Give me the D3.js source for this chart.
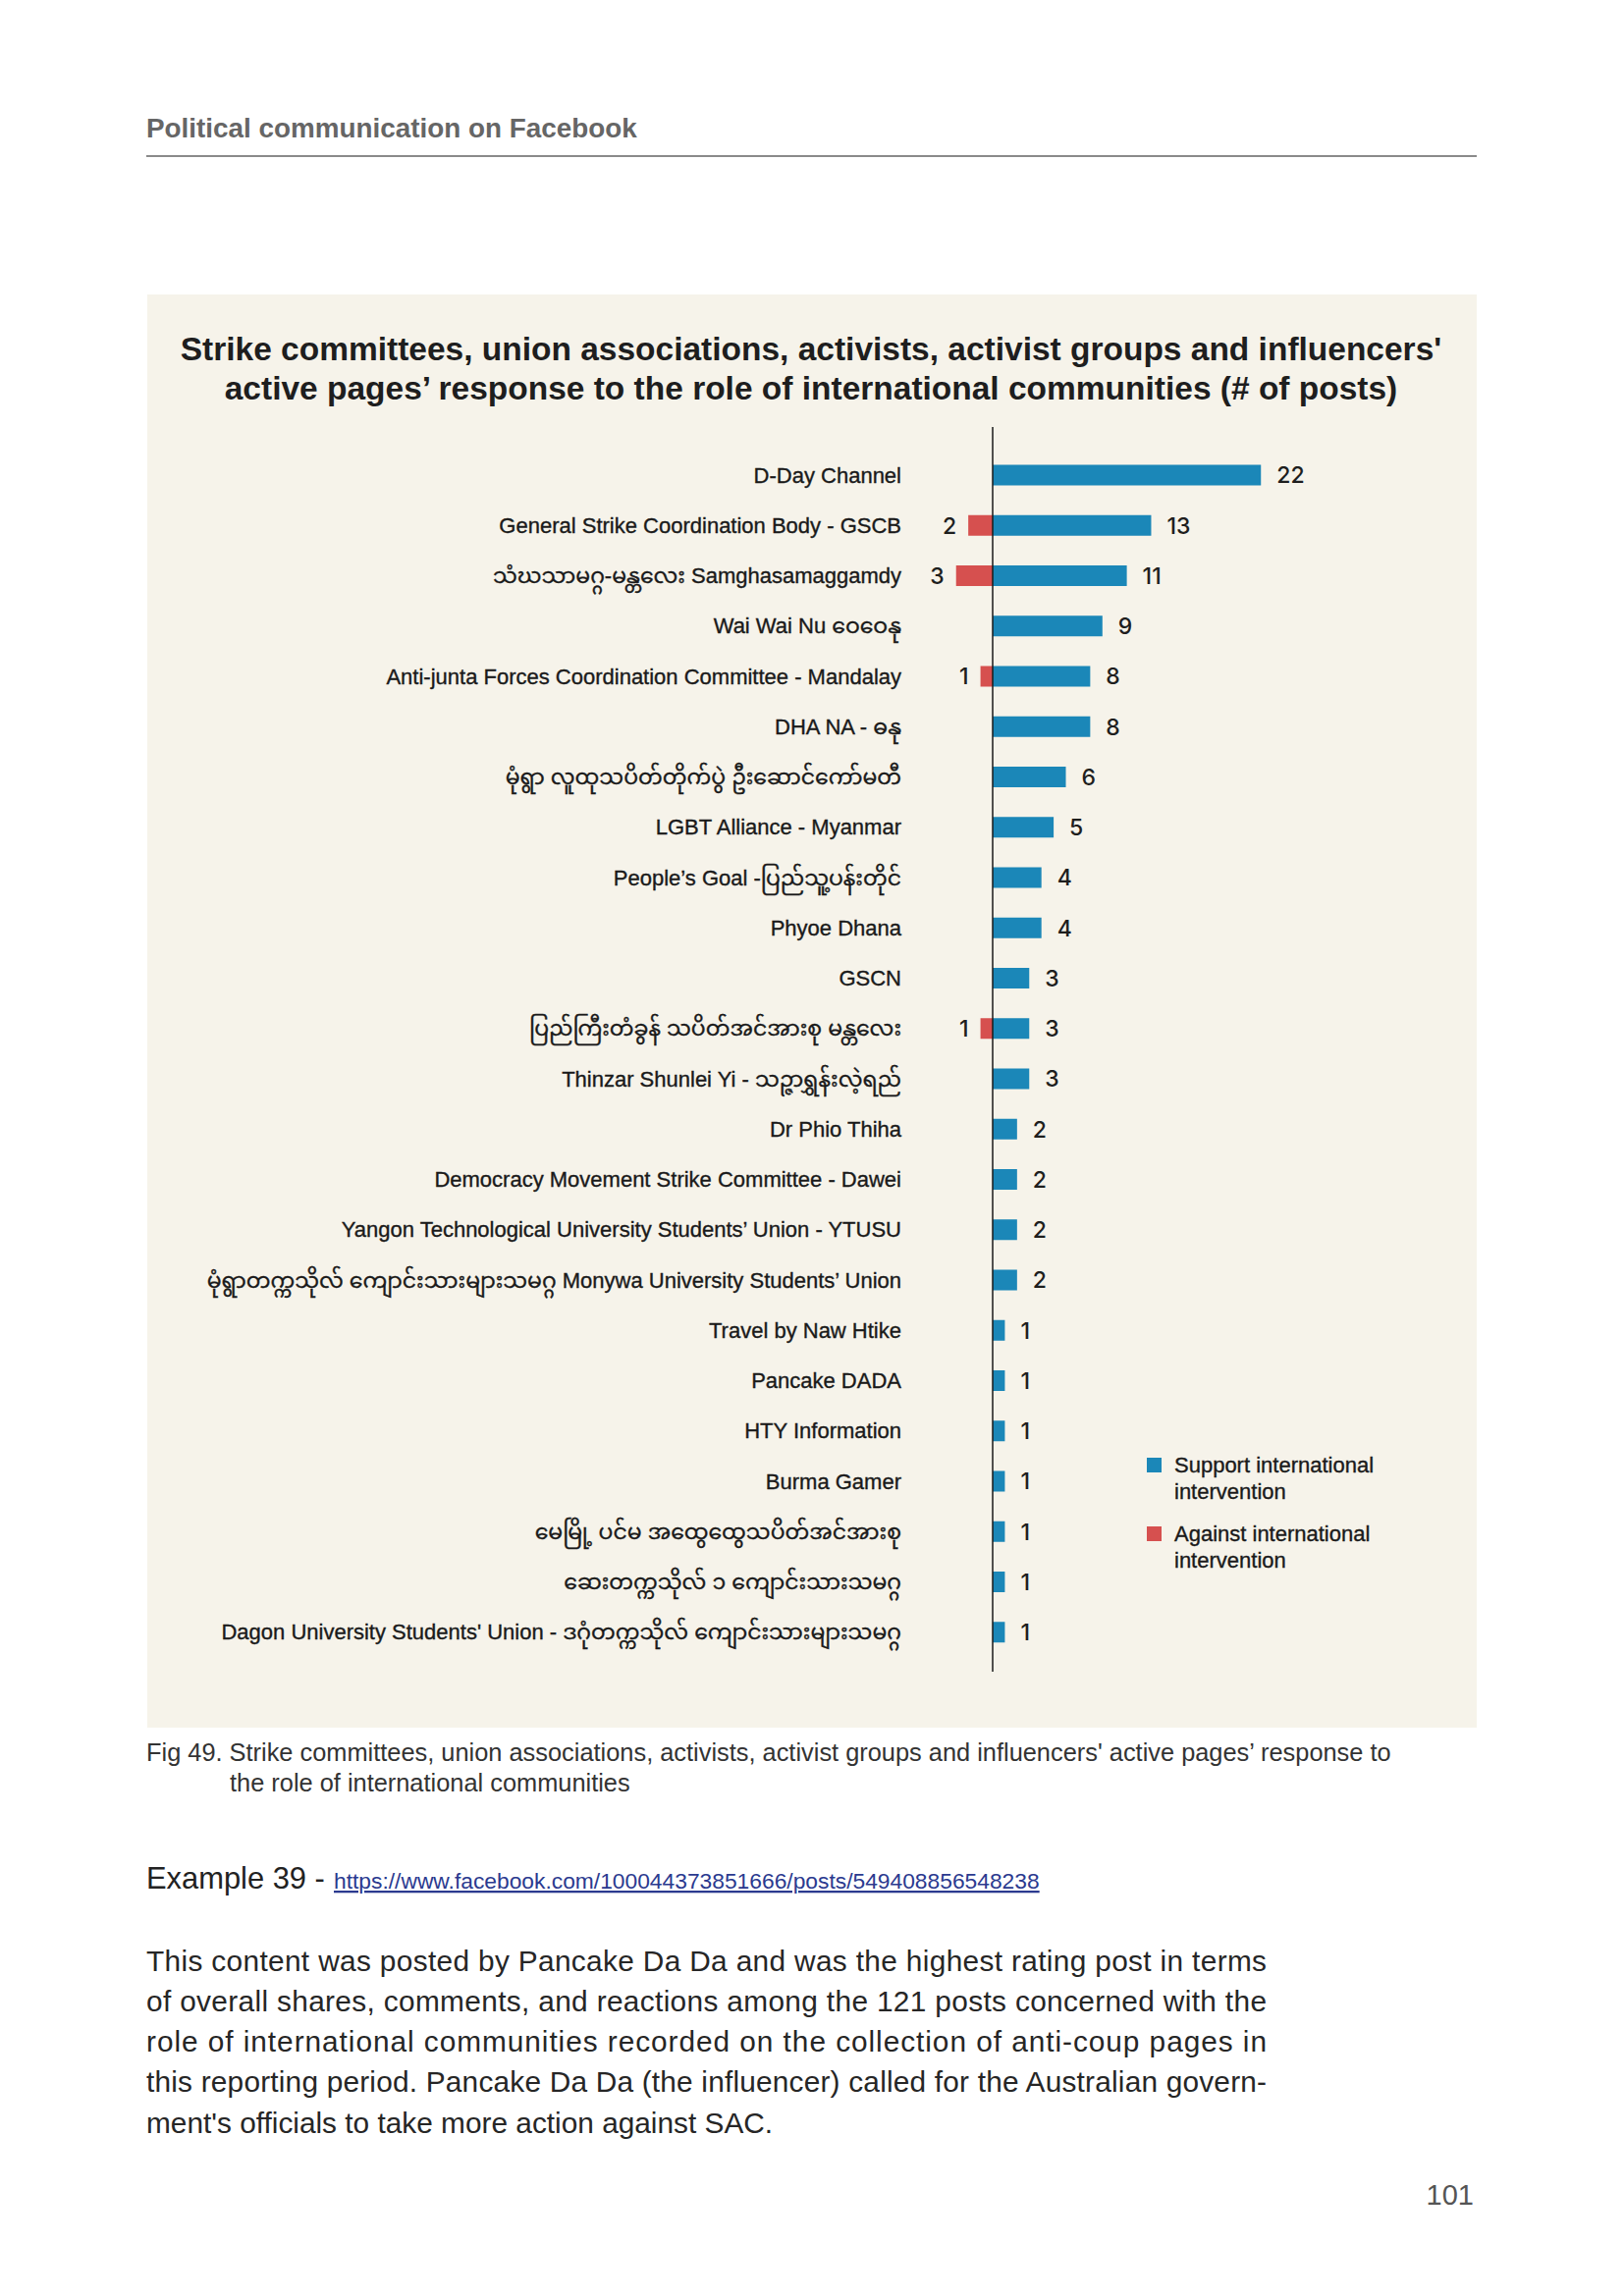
<!DOCTYPE html>
<html>
<head>
<meta charset="utf-8">
<script src="https://cdn.jsdelivr.net/npm/d3@7"></script>
<style>
  html, body { margin: 0; padding: 0; background: #ffffff; }
  svg { display: block; }
</style>
</head>
<body>
<svg id="page" width="1654" height="2339"></svg>
<script>
// ---------- DATA ----------
const categories = [
  "D-Day Channel",
  "General Strike Coordination Body - GSCB",
  "သံဃသာမဂ္ဂ-မန္တလေး Samghasamaggamdy",
  "Wai Wai Nu ဝေဝေနု",
  "Anti-junta Forces Coordination Committee - Mandalay",
  "DHA NA - ဓနု",
  "မုံရွာ လူထုသပိတ်တိုက်ပွဲ ဦးဆောင်ကော်မတီ",
  "LGBT Alliance - Myanmar",
  "People’s Goal -ပြည်သူ့ပန်းတိုင်",
  "Phyoe Dhana",
  "GSCN",
  "ပြည်ကြီးတံခွန် သပိတ်အင်အားစု မန္တလေး",
  "Thinzar Shunlei Yi - သဉ္ဇာရွှန်းလဲ့ရည်",
  "Dr Phio Thiha",
  "Democracy Movement Strike Committee - Dawei",
  "Yangon Technological University Students’ Union - YTUSU",
  "မုံရွာတက္ကသိုလ် ကျောင်းသားများသမဂ္ဂ Monywa University Students’ Union",
  "Travel by Naw Htike",
  "Pancake DADA",
  "HTY Information",
  "Burma Gamer",
  "မေမြို့ ပင်မ အထွေထွေသပိတ်အင်အားစု",
  "ဆေးတက္ကသိုလ် ၁ ကျောင်းသားသမဂ္ဂ",
  "Dagon University Students' Union - ဒဂုံတက္ကသိုလ် ကျောင်းသားများသမဂ္ဂ"
];
const supportValues = [22,13,11,9,8,8,6,5,4,4,3,3,3,2,2,2,2,1,1,1,1,1,1,1];
const againstValues = [0,2,3,0,1,0,0,0,0,0,0,1,0,0,0,0,0,0,0,0,0,0,0,0];
const seriesNames = ["Support international intervention", "Against international intervention"];
const legendLines = [["Support international", "intervention"], ["Against international", "intervention"]];

const headerText = "Political communication on Facebook";
const titleLines = [
  "Strike committees, union associations, activists, activist groups and influencers'",
  "active pages’ response to the role of international communities (# of posts)"
];
const captionLines = [
  "Fig 49. Strike committees, union associations, activists, activist groups and influencers' active pages’ response to",
  "the role of international communities"
];
const exampleLabel = "Example 39 - ";
const exampleLink = "https://www.facebook.com/100044373851666/posts/549408856548238";
const bodyLines = [
  "This content was posted by Pancake Da Da and was the highest rating post in terms",
  "of overall shares, comments, and reactions among the 121 posts concerned with the",
  "role of international communities recorded on the collection of anti-coup pages in",
  "this reporting period. Pancake Da Da (the influencer) called for the Australian govern-",
  "ment's officials to take more action against SAC."
];
const pageNumber = "101";

// ---------- STYLE ----------
const BLUE = "#1b87b8";
const RED = "#d6504f";
const PANEL = "#f6f3ea";
const FONT = "'Liberation Sans', Arial, Helvetica, 'Noto Sans Myanmar', 'Padauk', 'Myanmar Text', 'Noto Sans', sans-serif";
const NUMFONT = "Inter, 'Liberation Sans', Arial, sans-serif";

const svg = d3.select("#page");

function fitWidth(sel, w) {
  const n = sel.node();
  const l = n.getComputedTextLength();
  const fs = parseFloat(sel.attr("font-size"));
  if (l > 0) sel.attr("font-size", fs * w / l);
  return sel;
}

// ---------- HEADER ----------
const header = svg.append("text")
  .attr("x", 149).attr("y", 140)
  .attr("font-family", FONT).attr("font-weight", "bold")
  .attr("font-size", 26).attr("fill", "#666666")
  .text(headerText);
fitWidth(header, 500);

svg.append("line")
  .attr("x1", 149).attr("x2", 1504).attr("y1", 159).attr("y2", 159)
  .attr("stroke", "#8a8a8a").attr("stroke-width", 2);

// ---------- PANEL ----------
svg.append("rect")
  .attr("x", 150).attr("y", 300).attr("width", 1354).attr("height", 1460)
  .attr("fill", PANEL);

const t1 = svg.append("text")
  .attr("x", 826).attr("y", 367).attr("text-anchor", "middle")
  .attr("font-family", FONT).attr("font-weight", "bold")
  .attr("font-size", 30).attr("fill", "#1e1e1e")
  .text(titleLines[0]);
fitWidth(t1, 1285);
const tfs = parseFloat(t1.attr("font-size"));
svg.append("text")
  .attr("x", 826).attr("y", 407).attr("text-anchor", "middle")
  .attr("font-family", FONT).attr("font-weight", "bold")
  .attr("font-size", tfs).attr("fill", "#1e1e1e")
  .text(titleLines[1]);

// ---------- CHART ----------
const unit = 12.42;
const x0 = 1011;
const x = d3.scaleLinear().domain([0, 1]).range([x0, x0 + unit]);
const y = d3.scalePoint().domain(categories).range([484, 484 + 23 * 51.25]);
const barH = 21;

const rows = categories.map((c, i) => ({ c, s: supportValues[i], a: againstValues[i] }));

const g = svg.append("g");

g.selectAll("rect.sup").data(rows).join("rect")
  .attr("class", "sup")
  .attr("x", x(0)).attr("y", d => y(d.c) - barH / 2)
  .attr("width", d => x(d.s) - x(0)).attr("height", barH)
  .attr("fill", BLUE);

g.selectAll("rect.ag").data(rows.filter(d => d.a > 0)).join("rect")
  .attr("class", "ag")
  .attr("x", d => x(-d.a)).attr("y", d => y(d.c) - barH / 2)
  .attr("width", d => x(0) - x(-d.a)).attr("height", barH)
  .attr("fill", RED);

g.append("line")
  .attr("x1", x(0)).attr("x2", x(0)).attr("y1", 435).attr("y2", 1703)
  .attr("stroke", "#1a1a1a").attr("stroke-width", 1.5);

g.selectAll("text.cat").data(rows).join("text")
  .attr("class", "cat")
  .attr("x", 918).attr("y", d => y(d.c)).attr("dy", "0.35em")
  .attr("text-anchor", "end")
  .attr("font-family", FONT).attr("font-size", 22).attr("fill", "#1a1a1a")
  .attr("stroke", "#1a1a1a").attr("stroke-width", 0.35)
  .text(d => d.c);

g.selectAll("text.sv").data(rows).join("text")
  .attr("class", "sv")
  .attr("x", d => x(d.s) + 16).attr("y", d => y(d.c)).attr("dy", "0.36em")
  .attr("font-family", NUMFONT).attr("font-weight", 500).attr("font-size", 23).attr("fill", "#1e1e1e")
  .text(d => d.s);

g.selectAll("text.av").data(rows.filter(d => d.a > 0)).join("text")
  .attr("class", "av")
  .attr("x", d => x(-d.a) - 12).attr("y", d => y(d.c)).attr("dy", "0.36em")
  .attr("text-anchor", "end")
  .attr("font-family", NUMFONT).attr("font-weight", 500).attr("font-size", 23).attr("fill", "#1e1e1e")
  .text(d => d.a);

// ---------- LEGEND ----------
const legColors = [BLUE, RED];
const legTop = [1485, 1555];
seriesNames.forEach((name, i) => {
  const lg = svg.append("g").attr("class", "legend-item").attr("aria-label", name);
  lg.append("rect").attr("x", 1168).attr("y", legTop[i]).attr("width", 15).attr("height", 15)
    .attr("fill", legColors[i]);
  legendLines[i].forEach((ln, j) => {
    lg.append("text").attr("x", 1196).attr("y", legTop[i] + 15 + j * 27)
      .attr("font-family", FONT).attr("font-size", 22).attr("fill", "#1a1a1a")
      .attr("stroke", "#1a1a1a").attr("stroke-width", 0.35)
      .text(ln);
  });
});

// ---------- CAPTION ----------
const c1 = svg.append("text")
  .attr("x", 149).attr("y", 1794)
  .attr("font-family", FONT).attr("font-size", 22).attr("fill", "#333333")
  .text(captionLines[0]);
fitWidth(c1, 1268);
svg.append("text")
  .attr("x", 234).attr("y", 1825)
  .attr("font-family", FONT).attr("font-size", parseFloat(c1.attr("font-size"))).attr("fill", "#333333")
  .text(captionLines[1]);

// ---------- EXAMPLE ----------
const ex = svg.append("text")
  .attr("x", 149).attr("y", 1924)
  .attr("font-family", FONT).attr("font-size", 28).attr("fill", "#222222")
  .text(exampleLabel.trim());
fitWidth(ex, 182);
const lk = svg.append("text")
  .attr("x", 340).attr("y", 1924)
  .attr("font-family", FONT).attr("font-size", 20).attr("fill", "#2b3a8f")
  .attr("text-decoration", "underline")
  .text(exampleLink);
fitWidth(lk, 719);

// ---------- BODY ----------
const bodyBase = [2008, 2049, 2090, 2131, 2173];
const bodyW = 1141;
const bt = bodyLines.map((ln, i) => svg.append("text")
  .attr("x", 149).attr("y", bodyBase[i])
  .attr("font-family", FONT).attr("font-size", 28).attr("fill", "#262626")
  .text(ln));
const maxW = d3.max(bt.slice(0, 4), s => s.node().getComputedTextLength());
const bfs = 28 * bodyW * 0.985 / maxW;
bt.forEach((s, i) => {
  s.attr("font-size", bfs);
  if (i < 4) s.attr("textLength", bodyW).attr("lengthAdjust", "spacing");
});

// ---------- PAGE NUMBER ----------
svg.append("text")
  .attr("x", 1501).attr("y", 2246).attr("text-anchor", "end")
  .attr("font-family", FONT).attr("font-size", 29).attr("fill", "#555555")
  .text(pageNumber);
</script>
</body>
</html>
